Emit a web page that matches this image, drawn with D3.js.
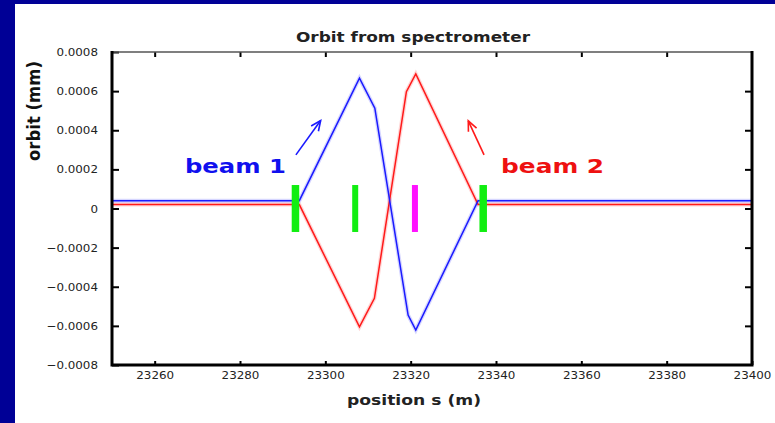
<!DOCTYPE html>
<html><head><meta charset="utf-8">
<script src="https://cdn.jsdelivr.net/npm/d3@7"></script>
<style>html,body{margin:0;padding:0;background:#fff;overflow:hidden}</style>
</head><body><svg id="c" width="775" height="423"></svg>
<script>
// ---- data ----
const beam1S = [23250, 23293.9, 23308.0, 23311.6, 23319.4, 23321.2, 23335.8, 23400];
const beam1V = [0.00004, 0.00004, 0.000666, 0.000513, -0.000545, -0.000621, 0.00004, 0.00004];
const beam2S = [23250, 23293.9, 23308.0, 23311.5, 23319.0, 23321.2, 23335.8, 23400];
const beam2V = [0.00002, 0.00002, -0.000605, -0.000459, 0.000597, 0.000688, 0.00002, 0.00002];
const markerS = [23293, 23307, 23321, 23337];
const markerKind = ["dipole", "dipole", "kicker", "dipole"];
const markerHalf = 0.00012;
const xTicks = [23260, 23280, 23300, 23320, 23340, 23360, 23380, 23400];
const xTickLabels = ["23260", "23280", "23300", "23320", "23340", "23360", "23380", "23400"];
const yTicks = [-0.0008, -0.0006, -0.0004, -0.0002, 0, 0.0002, 0.0004, 0.0006, 0.0008];
const yTickLabels = ["\u22120.0008", "\u22120.0006", "\u22120.0004", "\u22120.0002", "0", "0.0002", "0.0004", "0.0006", "0.0008"];

// ---- chart ----
const W = 775, H = 423;
const svg = d3.select("#c");
svg.append("rect").attr("width", W).attr("height", H).attr("fill", "#fff");
svg.append("rect").attr("x", 0).attr("y", 0).attr("width", 15).attr("height", H).attr("fill", "#000096");
svg.append("rect").attr("x", 0).attr("y", 0).attr("width", W).attr("height", 4).attr("fill", "#000096");

const x = d3.scaleLinear().domain([23250, 23400]).range([112, 752]);
const y = d3.scaleLinear().domain([-0.0008, 0.0008]).range([365, 52]);

const BLUE = "#1a1aff", RED = "#ff1a1a";
const line = d3.line().x(d => x(d[0])).y(d => y(d[1]));
const b1 = beam1S.map((s, i) => [s, beam1V[i]]);
const b2 = beam2S.map((s, i) => [s, beam2V[i]]);

[[b2, RED], [b1, BLUE]].forEach(([pts, col]) => {
  svg.append("path").attr("d", line(pts)).attr("fill", "none")
    .attr("stroke", col).attr("stroke-opacity", 0.18).attr("stroke-width", 4);
});
[[b2, RED], [b1, BLUE]].forEach(([pts, col]) => {
  svg.append("path").attr("d", line(pts)).attr("fill", "none")
    .attr("stroke", col).attr("stroke-width", 1.5).attr("stroke-linejoin", "miter");
});

// markers
const kindColor = { dipole: "#11ee11", kicker: "#ff11ff" };
markerS.forEach((s, i) => {
  const w = (i === 0 || i === markerS.length - 1) ? 7.5 : 6;
  svg.append("rect")
    .attr("x", x(s) - w / 2).attr("y", y(markerHalf))
    .attr("width", w).attr("height", y(-markerHalf) - y(markerHalf))
    .attr("fill", kindColor[markerKind[i]]);
});

// annotations
function arrow(s0, v0, s1, v1, col) {
  const x0 = x(s0), y0 = y(v0), x1 = x(s1), y1 = y(v1);
  const a = Math.atan2(y1 - y0, x1 - x0), L = 11, sp = 0.42;
  const g = svg.append("g").attr("stroke", col).attr("stroke-width", 1.6).attr("fill", "none");
  g.append("line").attr("x1", x0).attr("y1", y0).attr("x2", x1).attr("y2", y1);
  g.append("path").attr("d",
    `M${x1 - L * Math.cos(a - sp)},${y1 - L * Math.sin(a - sp)}L${x1},${y1}L${x1 - L * Math.cos(a + sp)},${y1 - L * Math.sin(a + sp)}`);
}
arrow(23293.1, 0.000274, 23298.9, 0.00045, BLUE);
arrow(23337.2, 0.000274, 23333.5, 0.000448, RED);

svg.append("text").attr("x", x(23267.1)).attr("y", y(0.000182))
  .attr("font-family", "DejaVu Sans").attr("font-weight", "bold").attr("font-size", 20)
  .attr("fill", "#1010ee").attr("textLength", 101).attr("lengthAdjust", "spacingAndGlyphs")
  .text("beam 1");
svg.append("text").attr("x", x(23341.2)).attr("y", y(0.000182))
  .attr("font-family", "DejaVu Sans").attr("font-weight", "bold").attr("font-size", 20)
  .attr("fill", "#ee1111").attr("textLength", 103).attr("lengthAdjust", "spacingAndGlyphs")
  .text("beam 2");

// axes
function styleAxis(g) {
  g.select(".domain").remove();
  g.selectAll(".tick line").attr("stroke", "#000").attr("stroke-width", 2);
  g.selectAll(".tick text").attr("font-family", "DejaVu Sans").attr("font-size", 11).attr("fill", "#222");
}
const gx = svg.append("g").attr("transform", `translate(0,365)`)
  .call(d3.axisBottom(x).tickValues(xTicks).tickFormat((d, i) => xTickLabels[i])
    .tickSizeInner(-4).tickSizeOuter(0).tickPadding(6));
styleAxis(gx);
const gy = svg.append("g").attr("transform", `translate(112,0)`)
  .call(d3.axisLeft(y).tickValues(yTicks).tickFormat((d, i) => yTickLabels[i])
    .tickSizeInner(-7).tickSizeOuter(0).tickPadding(14));
styleAxis(gy);
const gt = svg.append("g").attr("transform", `translate(0,52)`)
  .call(d3.axisTop(x).tickValues(xTicks.slice(0, -1)).tickFormat("").tickSizeInner(-5).tickSizeOuter(0));
styleAxis(gt);
const gr = svg.append("g").attr("transform", `translate(752,0)`)
  .call(d3.axisRight(y).tickValues(yTicks.slice(1, -1)).tickFormat("").tickSizeInner(-7).tickSizeOuter(0));
styleAxis(gr);
// stretch tick labels slightly
svg.selectAll(".tick text").each(function () {
  const len = this.getComputedTextLength();
  if (len > 0) d3.select(this).attr("textLength", len * 1.08).attr("lengthAdjust", "spacingAndGlyphs");
});

// frame
svg.append("line").attr("x1", 112).attr("x2", 752).attr("y1", 52).attr("y2", 52)
  .attr("stroke", "#555").attr("stroke-width", 1.5);
svg.append("path").attr("d", "M112,51V365H752V51").attr("fill", "none")
  .attr("stroke", "#000").attr("stroke-width", 3);

// titles
svg.append("text").attr("x", 413).attr("y", 42).attr("text-anchor", "middle")
  .attr("font-family", "DejaVu Sans").attr("font-weight", "bold").attr("font-size", 13.5)
  .attr("fill", "#222").attr("textLength", 234).attr("lengthAdjust", "spacingAndGlyphs")
  .text("Orbit from spectrometer");
svg.append("text").attr("x", 414).attr("y", 405).attr("text-anchor", "middle")
  .attr("font-family", "DejaVu Sans").attr("font-weight", "bold").attr("font-size", 14)
  .attr("fill", "#222").attr("textLength", 134).attr("lengthAdjust", "spacingAndGlyphs")
  .text("position s (m)");
svg.append("text").attr("transform", "translate(40,111) rotate(-90)").attr("text-anchor", "middle")
  .attr("font-family", "DejaVu Sans").attr("font-weight", "bold").attr("font-size", 18)
  .attr("fill", "#111").attr("textLength", 100).attr("lengthAdjust", "spacingAndGlyphs")
  .text("orbit  (mm)");
</script></body></html>
